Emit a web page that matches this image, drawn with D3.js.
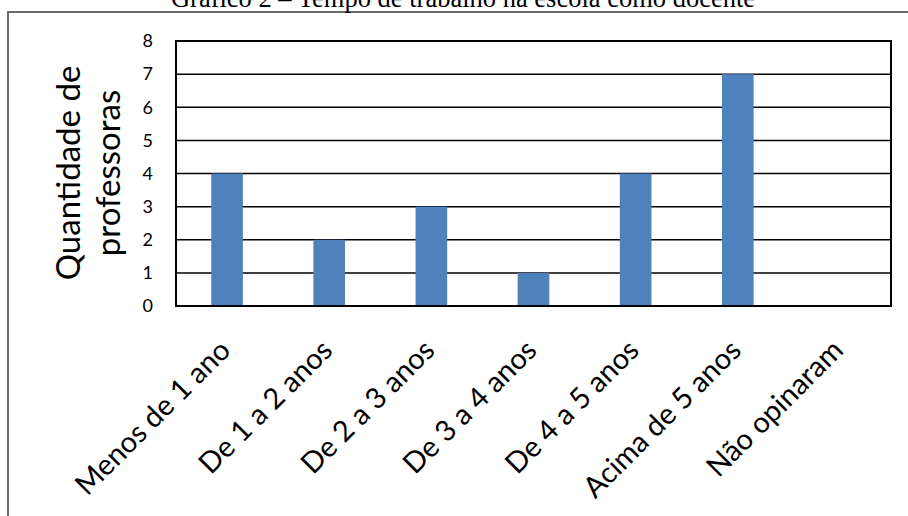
<!DOCTYPE html>
<html>
<head>
<meta charset="utf-8">
<script src="https://cdn.jsdelivr.net/npm/d3@7"></script>
<style>
  html, body { margin: 0; padding: 0; background: #fff; }
  svg { display: block; }
</style>
</head>
<body>
<svg id="chart" width="908" height="516"></svg>
<script>
// Tempo de trabalho na escola como docente
const chartTitle = "Gráfico 2 – Tempo de trabalho na escola como docente";
const categories = ["Menos de 1 ano", "De 1 a 2 anos", "De 2 a 3 anos", "De 3 a 4 anos",
                    "De 4 a 5 anos", "Acima de 5 anos", "Não opinaram"];
const values = [4, 2, 3, 1, 4, 7, 0];
const yTicks = [0, 1, 2, 3, 4, 5, 6, 7, 8];
const yTitleLines = ["Quantidade de", "professoras"];

const W = 908, H = 516;
const plot = { left: 176, right: 891, top: 41, bottom: 306 };
const sans = "Lato, 'Open Sans', sans-serif";

const svg = d3.select("#chart");

// Outer frame (top and left edges of the figure box)
svg.append("path")
  .attr("d", `M8,${H} L8,12 L${W},12`)
  .attr("fill", "none")
  .attr("stroke", "#6b6b6b")
  .attr("stroke-width", 2);

// Caption above the frame
svg.append("text")
  .attr("x", 463).attr("y", 7)
  .attr("text-anchor", "middle")
  .attr("font-family", "'Liberation Serif', 'Times New Roman', serif")
  .attr("font-size", 26.5)
  .attr("fill", "#000")
  .text(chartTitle);

const x = d3.scaleBand()
  .domain(categories)
  .range([plot.left, plot.right])
  .paddingInner(0.69)
  .paddingOuter(0.345);

const y = d3.scaleLinear()
  .domain([0, 8])
  .range([plot.bottom, plot.top]);

// Horizontal gridlines
svg.append("g")
  .selectAll("line")
  .data(yTicks)
  .join("line")
  .attr("x1", plot.left).attr("x2", plot.right)
  .attr("y1", d => y(d)).attr("y2", d => y(d))
  .attr("stroke", "#000")
  .attr("stroke-width", 1.5);

// Bars
svg.append("g")
  .selectAll("rect")
  .data(categories.map((c, i) => ({ c, v: values[i] })))
  .join("rect")
  .attr("x", d => x(d.c))
  .attr("width", x.bandwidth())
  .attr("y", d => y(d.v))
  .attr("height", d => y(0) - y(d.v))
  .attr("fill", "#4f81bd");

// Plot border
svg.append("rect")
  .attr("x", plot.left).attr("y", plot.top)
  .attr("width", plot.right - plot.left)
  .attr("height", plot.bottom - plot.top)
  .attr("fill", "none")
  .attr("stroke", "#000")
  .attr("stroke-width", 2);

// Y axis labels
const yAxis = d3.axisLeft(y).tickValues(yTicks).tickSize(0).tickPadding(23);
const gy = svg.append("g")
  .attr("transform", `translate(${plot.left},0)`)
  .call(yAxis);
gy.select(".domain").remove();
gy.selectAll("text")
  .attr("font-family", sans)
  .attr("font-size", 18)
  .attr("fill", "#000");

// Y axis title (two lines, rotated)
const yTitle = svg.append("text")
  .attr("transform", "translate(0,173) rotate(-90)")
  .attr("text-anchor", "middle")
  .attr("font-family", sans)
  .attr("font-size", 33)
  .attr("fill", "#000");
yTitle.selectAll("tspan")
  .data(yTitleLines)
  .join("tspan")
  .attr("x", 0)
  .attr("y", (d, i) => 80 + i * 40)
  .text(d => d);

// X axis labels, rotated 45 degrees
const xAxis = d3.axisBottom(x).tickSize(0).tickPadding(0);
const gx = svg.append("g")
  .attr("transform", `translate(0,${plot.bottom})`)
  .call(xAxis);
gx.select(".domain").remove();
gx.selectAll(".tick text")
  .attr("font-family", sans)
  .attr("font-size", 29)
  .attr("fill", "#000")
  .attr("text-anchor", "end")
  .attr("dy", 0)
  .attr("y", 0)
  .attr("transform", "translate(5,46) rotate(-45)");
</script>
</body>
</html>
